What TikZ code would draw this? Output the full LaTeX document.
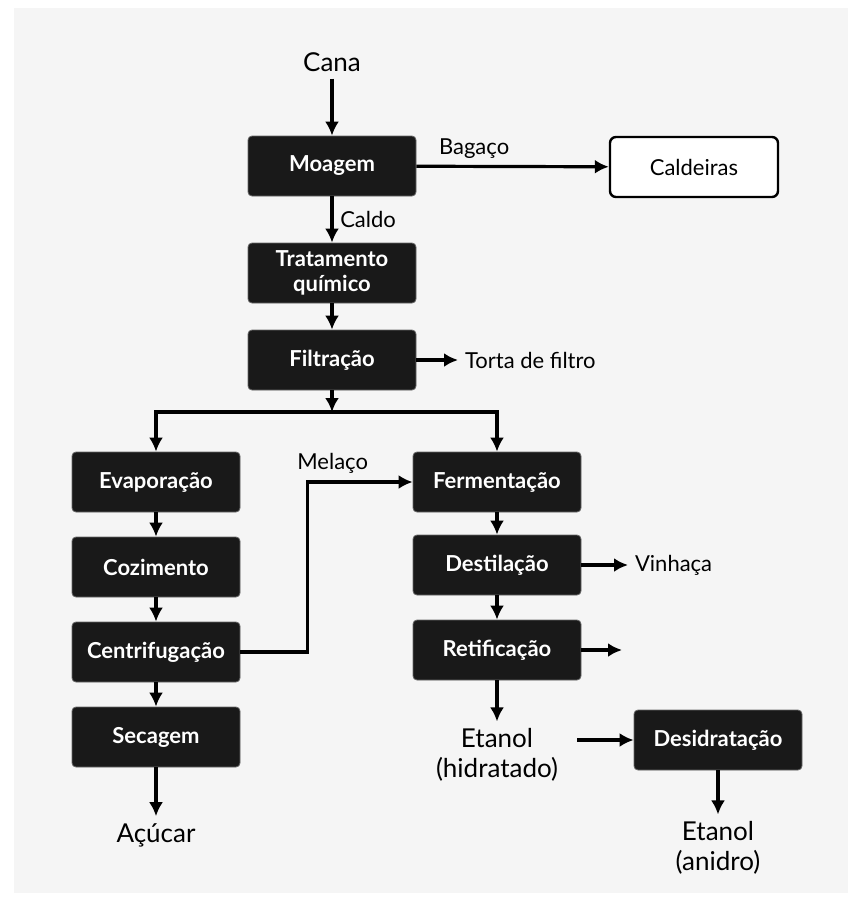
\documentclass[tikz,border=0pt]{standalone}
\usepackage{fontspec}
\setmainfont{Lato}
\usetikzlibrary{arrows.meta}

\begin{document}
\begin{tikzpicture}[x=0.5pt, y=-0.5pt,
box/.style = {draw=black!60, fill=black!90, text=white, rounded corners=2pt,
              font=\bfseries\fontsize{11}{12.5}\selectfont, align=center,
              minimum width=84pt, minimum height=30pt, inner sep=2pt},
wbox/.style = {draw, line width=1.2pt, fill=white, rounded corners=3pt,
               font=\fontsize{11}{13}\selectfont,
               minimum width=84pt, minimum height=30pt},
lbl/.style = {font=\fontsize{11}{13}\selectfont},
big/.style = {font=\fontsize{13}{15}\selectfont, align=center},
flow/.style = {line width=1.6pt, -{Latex[length=7pt,width=7pt]}}
                        ]
\useasboundingbox (0,0) rectangle (861,902);
\fill[white] (0,0) rectangle (861,902);
\fill[black!4] (14,8) rectangle (848,893);
% main line
\node[big] (cana) at (332,62) {Cana};
\node[box] (moa) at (332,166) {Moagem};
\node[wbox] (cal) at (694,167) {Caldeiras};
\node[box] (trat) at (332,273) {Tratamento\\químico};
\node[box] (fil) at (332,360) {Filtração};
\node[lbl, anchor=west] (torta) at (458,360) {Torta de filtro};
\coordinate (split) at (332,412);
% sugar
\node[box] (evap) at (156,482) {Evaporação};
\node[box] (coz) at (156,567) {Cozimento};
\node[box] (cent) at (156,652) {Centrifugação};
\node[box] (sec) at (156,737) {Secagem};
\node[big] (acu) at (156,835) {Açúcar};
% ethanol
\node[box] (ferm) at (497,482) {Fermentação};
\node[box] (dest) at (497,565) {Destilação};
\node[lbl, anchor=west] (vin) at (628,565) {Vinhaça};
\node[box] (ret) at (497,650) {Retificação};
\coordinate (retout) at (622,650);
\node[big] (hid) at (497,755) {Etanol\\(hidratado)};
\node[box] (des) at (718,740) {Desidratação};
\node[big] (ani) at (718,848) {Etanol\\(anidro)};

\draw[flow] (cana) -- (moa);
\draw[flow] (moa) -- node[lbl, above, pos=.3] {Bagaço} (cal);
\draw[flow] (moa) -- node[lbl, right] {Caldo} (trat);
\draw[flow] (trat) -- (fil);
\draw[flow] (fil) -- (torta);
\draw[flow] (fil) -- (split);
\draw[flow] (split) -| (evap);
\draw[flow] (split) -| (ferm);
\draw[flow] (evap) -- (coz);
\draw[flow] (coz) -- (cent);
\draw[flow] (cent) -- (sec);
\draw[flow] (sec) -- (acu);
\draw[flow] (cent.east) -- ++(67,0) |- node[lbl, above, pos=.62] {Melaço} (ferm);
\draw[flow] (ferm) -- (dest);
\draw[flow] (dest) -- (vin);
\draw[flow] (dest) -- (ret);
\draw[flow] (ret) -- (retout);
\draw[flow] (ret) -- (hid);
\draw[flow] ([xshift=6pt]hid.east |- des.west) -- (des.west);
\draw[flow] (des) -- (ani);
\end{tikzpicture}
\end{document}
